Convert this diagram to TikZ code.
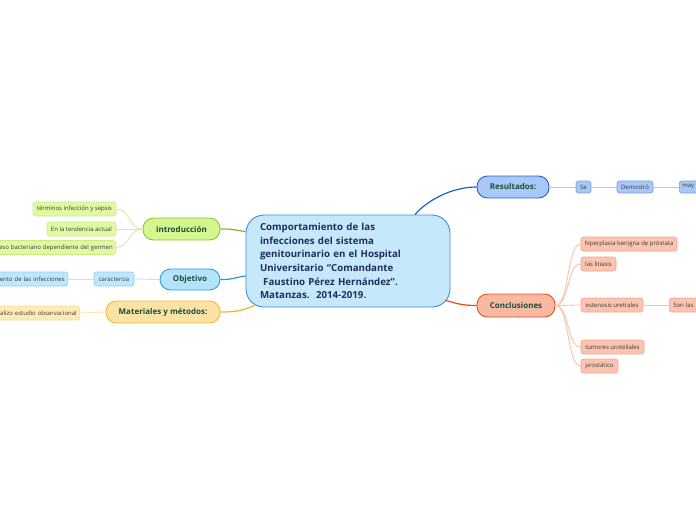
\documentclass[tikz,border=0pt]{standalone}
\usepackage{fontspec}
\setmainfont{Open Sans}
\definecolor{cfill}{HTML}{C5E9FB}
\definecolor{cdraw}{HTML}{3C8FD6}
\definecolor{ctext}{HTML}{1F2D5A}
\definecolor{ttext}{HTML}{1A4D3A}
\definecolor{ktext}{HTML}{3A3A3A}
\definecolor{resfill}{HTML}{A8C9F7}
\definecolor{resdraw}{HTML}{1B63D0}
\definecolor{resedge}{HTML}{1763CC}
\definecolor{reskdraw}{HTML}{6FA0E8}
\definecolor{resline}{HTML}{A8C9F7}
\definecolor{confill}{HTML}{F8B9A3}
\definecolor{condraw}{HTML}{EB5020}
\definecolor{conedge}{HTML}{EB4A1C}
\definecolor{conkfill}{HTML}{FBC4B0}
\definecolor{conkdraw}{HTML}{F5A28A}
\definecolor{conline}{HTML}{FBBFAA}
\definecolor{intfill}{HTML}{D5F58E}
\definecolor{intdraw}{HTML}{8BC92C}
\definecolor{intedge}{HTML}{7CB82A}
\definecolor{intkfill}{HTML}{E2F9A3}
\definecolor{intkdraw}{HTML}{C9EC7F}
\definecolor{intline}{HTML}{D3EF98}
\definecolor{objfill}{HTML}{B5E3FB}
\definecolor{objdraw}{HTML}{25A0EA}
\definecolor{objedge}{HTML}{1E9AE4}
\definecolor{objkfill}{HTML}{BDE7FC}
\definecolor{objkdraw}{HTML}{8ED0F5}
\definecolor{objline}{HTML}{BDE5FA}
\definecolor{matfill}{HTML}{FDE3A3}
\definecolor{matdraw}{HTML}{F6B72A}
\definecolor{matedge}{HTML}{F5B520}
\definecolor{matkfill}{HTML}{FEEBB8}
\definecolor{matkdraw}{HTML}{FBD88A}
\definecolor{matline}{HTML}{FDE5A8}
\begin{document}
\begin{tikzpicture}[x=1pt,y=-1pt,
  central/.style={draw=cdraw, fill=cfill, line width=0.9pt, rounded corners=18pt,
    text width=176pt, inner xsep=14pt, align=left, minimum height=92pt,
    font=\fontsize{9.7}{13.6}\selectfont\bfseries, text=ctext},
  topic/.style={rounded corners=10.5pt, line width=0.9pt, minimum height=22pt,
    inner sep=0pt, font=\fontsize{8}{9}\selectfont\bfseries, text=ttext},
  kid/.style={rounded corners=2.5pt, line width=0.6pt, minimum height=14pt,
    inner sep=0pt, font=\fontsize{6}{7}\selectfont, text=ktext},
  edge/.style={line width=1.2pt},
  kline/.style={line width=0.9pt}]
\useasboundingbox (0,0) rectangle (696,520);
\clip (0,0) rectangle (696,520);

% central
\node[central] (c) at (348,261) {Comportamiento de las\\infecciones del sistema\\genitourinario en el Hospital\\Universitario “Comandante\\\ Faustino Pérez Hernández”.\\Matanzas.\ \ 2014-2019.};

% Resultados
\node[topic, fill=resfill, draw=resdraw, minimum width=72pt] (res) at (513,187) {Resultados:};
\node[kid, fill=resfill, draw=reskdraw, minimum width=15pt, minimum height=12pt] (se) at (583.5,187) {Se};
\node[kid, fill=resfill, draw=reskdraw, minimum width=36pt, minimum height=12pt] (dem) at (635,187) {Demostró};
\node[kid, fill=resfill, draw=reskdraw, anchor=west, text width=30pt, inner xsep=3pt, align=left, minimum height=12pt] (may) at (679,187) {may};

% Conclusiones
\node[topic, fill=confill, draw=condraw, minimum width=78pt, minimum height=23pt] (con) at (516,305.5) {Conclusiones};
\node[kid, fill=conkfill, draw=conkdraw, minimum width=96pt] (hip) at (629,244) {hiperplasia benigna de próstata};
\node[kid, fill=conkfill, draw=conkdraw, minimum width=35pt] (lit) at (598.5,264) {las litiasis};
\node[kid, fill=conkfill, draw=conkdraw, minimum width=62pt] (est) at (612,305) {estenosis uretrales};
\node[kid, fill=conkfill, draw=conkdraw, anchor=west, text width=40pt, inner xsep=4pt, align=left] (son) at (669,305) {Son las};
\node[kid, fill=conkfill, draw=conkdraw, minimum width=63pt] (tum) at (612.5,347) {tumores uroteliales};
\node[kid, fill=conkfill, draw=conkdraw, minimum width=37pt] (pro) at (599.5,366) {prostático};

% introduccion
\node[topic, fill=intfill, draw=intdraw, minimum width=77pt] (int) at (181.5,229) {introducción};
\node[kid, fill=intkfill, draw=intkdraw, minimum width=83pt] (t1) at (74.5,209) {términos infección y sepsis};
\node[kid, fill=intkfill, draw=intkdraw, minimum width=69pt] (t2) at (81.5,229) {En la tendencia actual};
\node[kid, fill=intkfill, draw=intkdraw, anchor=east, text width=130pt, inner xsep=3pt, align=right] (t3) at (116,247.5) {eso bacteriano dependiente del germen};

% Objetivo
\node[topic, fill=objfill, draw=objdraw, minimum width=60pt, minimum height=21pt] (obj) at (190,279.5) {Objetivo};
\node[kid, fill=objkfill, draw=objkdraw, minimum width=40pt] (car) at (114,279) {caracteriza};
\node[kid, fill=objkfill, draw=objkdraw, anchor=east, text width=90pt, inner xsep=3pt, align=right] (o1) at (68,279) {ento de las infecciones};

% Materiales
\node[topic, fill=matfill, draw=matdraw, minimum width=114pt] (mat) at (163,312) {Materiales y métodos:};
\node[kid, fill=matkfill, draw=matkdraw, anchor=east, text width=100pt, inner xsep=3pt, align=right] (m1) at (80,313) {alizo estudio observacional};

% main edges
\draw[edge, draw=resedge] ([xshift=67pt]c.north) .. controls +(12,-14) and +(-25,0) .. (res.west);
\draw[edge, draw=conedge] ([xshift=-5pt,yshift=7pt]c.south east) .. controls +(12,3) and +(-15,0) .. (con.west);
\draw[edge, draw=intedge] (int.east) .. controls +(14,0) and +(-14,-2) .. ([yshift=-17pt]c.north west);
\draw[edge, draw=objedge] (obj.east) .. controls +(14,0) and +(-14,2) .. ([yshift=-15pt]c.west);
\draw[edge, draw=matedge] (mat.east) .. controls +(16,0) and +(-12,5) .. ([xshift=9pt,yshift=2pt]c.south west);

% child lines
\draw[kline, draw=resline] (res.east) -- (se.west);
\draw[kline, draw=resline] (se.east) -- (dem.west);
\draw[kline, draw=resline] (dem.east) -- (may.west);

\foreach \k in {hip,lit,est,tum,pro}
  \draw[kline, draw=conline] (con.east) .. controls +(14,0) and +(-14,0) .. (\k.west);
\draw[kline, draw=conline] (est.east) -- (son.west);

\foreach \k in {t1,t2,t3}
  \draw[kline, draw=intline] (int.west) .. controls +(-14,0) and +(14,0) .. (\k.east);

\draw[kline, draw=objline] (obj.west) -- (car.east);
\draw[kline, draw=objline] (car.west) -- (o1.east);
\draw[kline, draw=matline] (mat.west) -- (m1.east);
\end{tikzpicture}
\end{document}
